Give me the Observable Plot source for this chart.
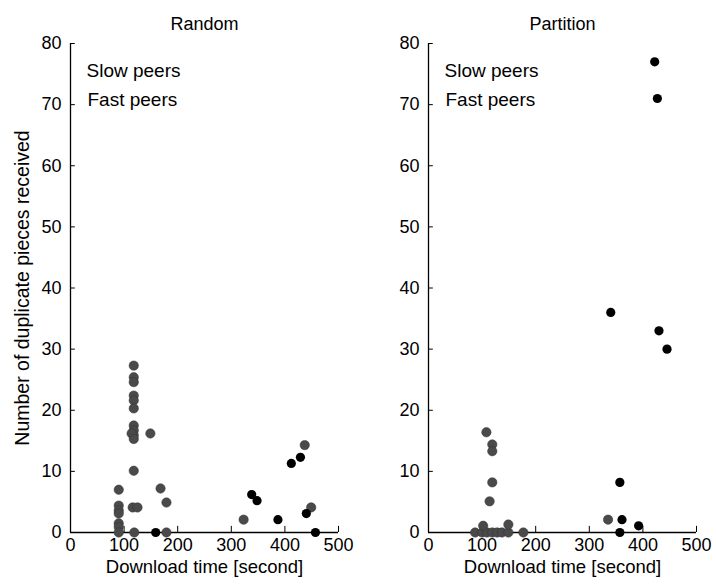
<!DOCTYPE html>
<html>
<head>
<meta charset="utf-8">
<script src="https://cdn.jsdelivr.net/npm/d3@7"></script>
<script src="https://cdn.jsdelivr.net/npm/@observablehq/plot@0.6"></script>
<style>
  html, body { margin: 0; padding: 0; background: #fff; }
  #wrap { position: relative; width: 716px; height: 584px; }
  #wrap > div { position: absolute; top: 0; }
  svg { font-family: "Liberation Sans", Arial, sans-serif; }
</style>
</head>
<body>
<div id="wrap"><div id="left" style="left:0"></div><div id="right" style="left:358px"></div></div>
<script>
// ---- data ----
const panelTitles = ["Random", "Partition"];
const legendLabels = ["Slow peers", "Fast peers"];
const xTicks = [0, 100, 200, 300, 400, 500];
const yTicks = [0, 10, 20, 30, 40, 50, 60, 70, 80];

const randomFastTime = [90, 90, 90, 90, 90, 90, 90, 118, 118, 118, 118, 118, 118, 118, 118, 118, 114, 118, 118, 116, 125, 119, 149, 168, 179, 179, 323, 437, 449];
const randomFastDup  = [7, 4.4, 3.6, 3.1, 1.5, 0.9, 0, 27.3, 25.4, 24.6, 22.4, 21.6, 20.3, 17.5, 16.7, 15.9, 16.2, 15.3, 10.1, 4.1, 4.1, 0, 16.2, 7.2, 4.9, 0, 2.1, 14.3, 4.1];
const randomSlowTime = [159, 338, 348, 387, 412, 429, 440, 457];
const randomSlowDup  = [0, 6.2, 5.2, 2.1, 11.3, 12.3, 3.1, 0];

const partitionFastTime = [108, 119, 119, 119, 114, 87, 100, 109, 119, 128, 137, 149, 177, 102, 149, 335];
const partitionFastDup  = [16.4, 14.4, 13.3, 8.2, 5.1, 0, 0, 0, 0, 0, 0, 0, 0, 1.1, 1.3, 2.1];
const partitionSlowTime = [357, 361, 357, 392, 340, 430, 445, 422, 427];
const partitionSlowDup  = [8.2, 2.1, 0, 1.1, 36, 33, 30, 77, 71];

function pts(xs, ys) { return xs.map((x, i) => ({x, y: ys[i]})); }

function panel(title, fast, slow, showYLabel) {
  const marks = [
    Plot.ruleX([0], {y1: 0, y2: 80, stroke: "#000", strokeWidth: 1.3}),
    Plot.ruleY([0], {x1: 0, x2: 500, stroke: "#000", strokeWidth: 1.3}),
    Plot.ruleY(yTicks, {y: d => d, x1: 0, x2: 9, stroke: "#000"}),
    Plot.ruleX(xTicks, {x: d => d, y1: 0, y2: 1, stroke: "#000"}),
    Plot.axisX(xTicks, {tickSize: 0, tickPadding: 6, fontSize: 18, label: null}),
    Plot.axisY(yTicks, {tickSize: 0, tickPadding: 9, fontSize: 18, label: null}),
    Plot.text(["Download time [second]"], {frameAnchor: "bottom", dy: 40, fontSize: 18.5, fill: "#000"}),
    Plot.text([title], {frameAnchor: "top", dy: -26, fontSize: 18, fill: "#000"}),
    Plot.text([legendLabels[0]], {frameAnchor: "top-left", dx: 16, dy: 20, fontSize: 19, fill: "#000", textAnchor: "start"}),
    Plot.text([legendLabels[1]], {frameAnchor: "top-left", dx: 17, dy: 49, fontSize: 19, fill: "#000", textAnchor: "start"}),
    Plot.dot(fast, {x: "x", y: "y", r: 4.7, fill: "#4a4a4a", stroke: "#333", strokeWidth: 0.5}),
    Plot.dot(slow, {x: "x", y: "y", r: 4.6, fill: "#000"})
  ];
  if (showYLabel) {
    marks.push(Plot.text(["Number of duplicate pieces received"], {frameAnchor: "left", textAnchor: "middle", dx: -48, rotate: -90, fontSize: 19.5, fill: "#000"}));
  }
  return Plot.plot({
    width: 358,
    height: 584,
    marginLeft: 70,
    marginRight: 20,
    marginTop: 43,
    marginBottom: 52,
    x: {domain: [0, 500]},
    y: {domain: [0, 80]},
    style: {fontFamily: "'Liberation Sans', Arial, sans-serif", color: "#000", background: "#fff"},
    marks
  });
}

document.getElementById("left").append(panel(panelTitles[0], pts(randomFastTime, randomFastDup), pts(randomSlowTime, randomSlowDup), true));
document.getElementById("right").append(panel(panelTitles[1], pts(partitionFastTime, partitionFastDup), pts(partitionSlowTime, partitionSlowDup), false));
</script>
</body>
</html>
